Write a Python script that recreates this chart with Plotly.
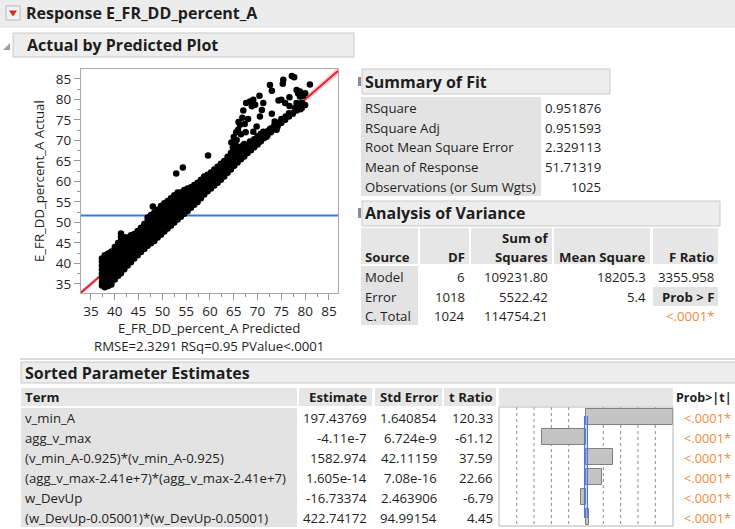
import plotly.graph_objects as go

W, H = 735, 529
FONT = "Open Sans, Segoe UI, sans-serif"
INK = "#1e1e1e"
ORANGE = "#ef8a3a"
BODY = 13.2
HEAD = 16

# ---------------- data ----------------
# Actual vs predicted: dense band along the diagonal, one list of actual values per predicted column
core_pred = [37.3, 37.9, 38.6, 39.3, 40.0, 40.7, 41.3, 42.0, 42.7, 43.4, 44.1, 44.8, 45.5, 46.2,
             46.9, 47.6, 48.3, 49.0, 49.7, 50.4, 51.1, 51.8, 52.5, 53.2, 53.9, 54.6, 55.3, 56.0,
             56.7, 57.4, 58.1, 58.8, 59.5, 60.2, 60.9, 61.6, 62.3, 63.0, 63.7, 64.4, 65.1, 65.8,
             66.5, 67.2, 67.9, 68.6, 69.3, 70.0, 70.7, 71.4, 72.1, 72.8, 73.5, 74.2, 75.0, 75.8,
             76.6, 77.4, 78.2, 79.0, 80.0]
core_actual = [
    [34.6, 35.5, 36.5, 37.5, 38.5, 39.5, 40.5, 41.2],
    [34.2, 35.2, 36.2, 37.2, 38.2, 39.2, 40.2, 41.2, 42.0],
    [34.5, 35.5, 36.4, 37.4, 38.4, 39.4, 40.4, 41.4, 42.4],
    [34.9, 35.9, 36.9, 37.9, 38.9, 39.9, 40.9, 41.9, 42.9],
    [36.1, 37.1, 38.1, 39.1, 40.1, 41.1, 42.1, 43.1, 44.0],
    [37.0, 38.0, 39.0, 40.0, 41.0, 42.0, 43.0, 44.0, 45.0],
    [37.6, 38.6, 39.6, 40.6, 41.6, 42.6, 43.6, 44.6, 45.6, 46.5, 47.3],
    [38.6, 39.6, 40.6, 41.6, 42.6, 43.6, 44.6, 45.6, 46.4],
    [39.5, 40.5, 41.5, 42.5, 43.5, 44.5, 45.5, 46.3],
    [40.3, 41.3, 42.3, 43.3, 44.3, 45.3, 46.3, 46.9],
    [41.2, 42.2, 43.2, 44.2, 45.2, 46.2, 47.2],
    [42.0, 43.0, 44.0, 45.0, 46.0, 47.0, 47.9],
    [42.8, 43.8, 44.8, 45.8, 46.8, 47.8, 48.7],
    [43.5, 44.5, 45.5, 46.5, 47.5, 48.5, 49.6],
    [44.3, 45.3, 46.3, 47.3, 48.3, 49.3, 50.4, 51.2],
    [44.9, 45.9, 46.9, 47.9, 48.9, 49.9, 50.9, 51.8],
    [45.5, 46.5, 47.5, 48.5, 49.5, 50.5, 51.5, 52.4],
    [46.3, 47.3, 48.3, 49.3, 50.3, 51.3, 52.3, 53.1],
    [47.0, 48.0, 49.0, 50.0, 51.0, 52.0, 53.0, 54.0],
    [47.8, 48.8, 49.8, 50.8, 51.8, 52.8, 53.8, 54.7],
    [48.5, 49.5, 50.5, 51.5, 52.5, 53.5, 54.5, 55.2],
    [49.2, 50.2, 51.2, 52.2, 53.2, 54.2, 55.2, 55.9],
    [50.0, 51.0, 52.0, 53.0, 54.0, 55.0, 56.0, 56.6],
    [50.7, 51.7, 52.7, 53.7, 54.7, 55.7, 56.8, 57.3],
    [51.4, 52.4, 53.4, 54.4, 55.4, 56.4, 57.3],
    [52.1, 53.1, 54.1, 55.1, 56.1, 57.1, 57.9],
    [52.8, 53.8, 54.8, 55.8, 56.8, 57.8, 58.3],
    [53.6, 54.6, 55.6, 56.6, 57.6, 58.6],
    [54.3, 55.3, 56.3, 57.3, 58.3, 59.1],
    [55.0, 56.0, 57.0, 58.0, 59.0, 59.7],
    [55.9, 56.9, 57.9, 58.9, 59.9, 60.4],
    [56.8, 57.8, 58.8, 59.8, 60.8, 61.2],
    [57.6, 58.6, 59.6, 60.6, 61.6],
    [58.3, 59.3, 60.3, 61.3, 62.2],
    [59.0, 60.0, 61.0, 62.0, 62.9],
    [59.7, 60.7, 61.7, 62.7, 63.6],
    [60.4, 61.4, 62.4, 63.4, 64.3],
    [61.2, 62.2, 63.2, 64.2, 65.0],
    [62.1, 63.1, 64.1, 65.1, 66.0],
    [62.9, 63.9, 64.9, 65.9, 66.9],
    [63.8, 64.8, 65.8, 66.8, 67.8],
    [64.6, 65.6, 66.6, 67.6, 68.5],
    [65.4, 66.4, 67.4, 68.4],
    [66.1, 67.1, 68.1, 69.1],
    [66.9, 67.9, 68.9],
    [67.6, 68.6, 69.6],
    [68.3, 69.3, 70.3],
    [69.0, 70.0, 71.0],
    [69.8, 70.8, 71.6],
    [70.6, 71.5],
    [71.3, 72.2],
    [72.0, 72.9],
    [72.7, 73.6],
    [73.4, 74.3],
    [74.3, 75.2],
    [75.0],
    [75.8, 76.6],
    [76.5],
    [77.3, 78.0],
    [77.6],
    [78.6],
]
# Scattered observations away from the main band
outlier_pred = [48.0, 52.9, 54.3, 59.6,
                64.5, 65.0, 65.5, 66.0, 66.8, 67.3, 66.5, 67.5, 65.3, 64.8,
                77.2, 77.7, 75.4, 75.3, 72.6, 73.0, 81.0, 78.2, 78.5, 78.9, 76.7, 74.4, 75.0,
                70.4, 71.2, 70.9, 68.4, 69.1, 67.6, 67.0, 69.5, 68.8, 76.7, 77.9, 75.8, 78.2,
                79.3, 73.0, 70.5, 68.0, 75.4, 74.7, 75.9, 73.6, 69.8, 66.3, 65.9, 69.1, 71.2,
                72.6, 74.0, 71.9, 65.6, 67.0, 68.4, 70.5, 79.6, 79.3, 78.6, 80.0, 78.9]
outlier_actual = [53.9, 61.9, 63.4, 66.3,
                  69.5, 70.8, 72.0, 74.5, 75.5, 74.0, 71.5, 72.0, 68.8, 68.2,
                  85.7, 85.4, 84.8, 83.8, 83.5, 82.1, 83.6, 82.3, 81.5, 80.7, 80.5, 79.7, 79.9,
                  80.9, 79.1, 77.4, 79.5, 79.9, 79.1, 77.3, 78.7, 78.3, 78.4, 77.9, 79.1, 79.1,
                  77.9, 76.5, 75.8, 75.2, 75.2, 74.2, 75.8, 74.6, 73.4, 73.8, 72.6, 72.1, 72.1,
                  72.8, 72.6, 70.9, 70.1, 68.9, 69.7, 69.7, 80.9, 79.2, 78.3, 81.5, 81.9]

# Confidence band half-widths around the fit line
band_x = [32.9, 40, 46, 51.7, 58, 64, 70, 76, 82, 86.9]
band_half = [0.55, 0.4, 0.2, 0.1, 0.18, 0.3, 0.45, 0.6, 0.75, 0.9]

# Summary of Fit
fit_labels = ["RSquare", "RSquare Adj", "Root Mean Square Error", "Mean of Response",
              "Observations (or Sum Wgts)"]
fit_values = ["0.951876", "0.951593", "2.329113", "51.71319", "1025"]
mean_response = 51.71319

# Analysis of Variance
anova_source = ["Model", "Error", "C. Total"]
anova_df = ["6", "1018", "1024"]
anova_ss = ["109231.80", "5522.42", "114754.21"]
anova_ms = ["18205.3", "5.4", ""]
f_ratio = "3355.958"
prob_f = "<.0001*"

# Sorted Parameter Estimates
terms = ["v_min_A", "agg_v_max", "(v_min_A-0.925)*(v_min_A-0.925)",
         "(agg_v_max-2.41e+7)*(agg_v_max-2.41e+7)", "w_DevUp",
         "(w_DevUp-0.05001)*(w_DevUp-0.05001)"]
estimates = ["197.43769", "-4.11e-7", "1582.974", "1.605e-14", "-16.73374", "422.74172"]
std_errors = ["1.640854", "6.724e-9", "42.11159", "7.08e-16", "2.463906", "94.99154"]
t_ratios = [120.33, -61.12, 37.59, 22.66, -6.79, 4.45]
p_values = ["<.0001*"] * 6

x_ticks = [35, 40, 45, 50, 55, 60, 65, 70, 75, 80, 85]
y_ticks = [35, 40, 45, 50, 55, 60, 65, 70, 75, 80, 85]
X_RANGE = [32.9, 86.9]
Y_RANGE = [32.8, 87.4]


# ---------------- helpers (pixel -> paper) ----------------
def px(x):
    return x / W


def py(y):
    return 1 - y / H


shapes = []
annotations = []


def rect(x0, y0, x1, y1, fill, line=None, lw=1):
    shapes.append(dict(type="rect", xref="paper", yref="paper",
                       x0=px(x0), x1=px(x1), y0=py(y1), y1=py(y0),
                       fillcolor=fill, line=dict(color=line or fill, width=lw if line else 0),
                       layer="below"))


def text(x, y, s, anchor="left", size=BODY, bold=False, color=INK, angle=0):
    annotations.append(dict(x=px(x), y=py(y), xref="paper", yref="paper", text=s,
                            showarrow=False, xanchor=anchor, yanchor="middle",
                            textangle=angle, borderpad=0,
                            font=dict(family=FONT, size=size, color=color,
                                      weight="bold" if bold else "normal")))


fig = go.Figure()

# ---------------- actual by predicted plot ----------------
bx = band_x + band_x[::-1]
by = [v + h for v, h in zip(band_x, band_half)] + \
     [v - h for v, h in zip(band_x[::-1], band_half[::-1])]
fig.add_trace(go.Scatter(x=bx, y=by, fill="toself", fillcolor="rgba(240,130,140,0.45)",
                         line=dict(width=0), hoverinfo="skip", mode="lines"))
fig.add_trace(go.Scatter(x=X_RANGE, y=X_RANGE, mode="lines",
                         line=dict(color="#e4212c", width=2), hoverinfo="skip"))
fig.add_trace(go.Scatter(x=X_RANGE, y=[mean_response, mean_response], mode="lines",
                         line=dict(color="#3f74e6", width=2), hoverinfo="skip"))

pts_x, pts_y = [], []
for xv, col in zip(core_pred, core_actual):
    for yv in col:
        pts_x.append(xv)
        pts_y.append(yv)
pts_x += outlier_pred
pts_y += outlier_actual
fig.add_trace(go.Scatter(x=pts_x, y=pts_y, mode="markers",
                         marker=dict(color="black", size=6.5, line=dict(width=0))))

axis_common = dict(showgrid=False, zeroline=False, showline=True, mirror=True,
                   linecolor="#a9a9a9", linewidth=1, ticks="outside", ticklen=6,
                   tickcolor="#9a9a9a", tickfont=dict(family=FONT, size=13.5, color=INK),
                   minor=dict(ticks="outside", ticklen=3, dtick=2.5, tickcolor="#9a9a9a"))
fig.update_layout(
    xaxis=dict(domain=[px(81), px(338)], range=X_RANGE, tickvals=x_ticks,
               anchor="y", **axis_common),
    yaxis=dict(domain=[py(293), py(69)], range=Y_RANGE, tickvals=y_ticks,
               anchor="x", **axis_common),
)

# ---------------- t ratio bars ----------------
tmax = max(abs(t) for t in t_ratios)
rows = list(range(len(t_ratios)))
fig.add_trace(go.Bar(x=t_ratios, y=rows, orientation="h", width=0.8,
                     marker=dict(color="#c4c4c4", line=dict(color="#808080", width=1)),
                     xaxis="x3", yaxis="y3"))
fig.update_layout(
    xaxis3=dict(domain=[px(499), px(673)], range=[-tmax * 1.005, tmax * 1.005],
                showticklabels=False, showgrid=False, zeroline=False, anchor="y3",
                showline=False, ticks=""),
    yaxis3=dict(domain=[py(526), py(407)], range=[5.45, -0.5], showticklabels=False,
                showgrid=False, zeroline=False, anchor="x3", showline=False, ticks=""),
)
for k in [-4, -3, -2, -1, 1, 2, 3, 4]:
    shapes.append(dict(type="line", xref="x3", yref="y3", x0=k * 0.2 * tmax,
                       x1=k * 0.2 * tmax, y0=-0.5, y1=5.45,
                       line=dict(color="#8a8a8a", width=1, dash="dot"), layer="below"))
for v in (-1.96, 1.96):
    shapes.append(dict(type="line", xref="x3", yref="y3", x0=v, x1=v, y0=-0.05, y1=5.05,
                       line=dict(color="#4a78e0", width=1.3), layer="above"))
shapes.append(dict(type="rect", xref="paper", yref="paper", x0=px(499), x1=px(673),
                   y0=py(526), y1=py(407), line=dict(color="#b5b5b5", width=1),
                   fillcolor="rgba(0,0,0,0)", layer="above"))

# ---------------- report chrome ----------------
rect(0, 0, W, 27, "#ececec")
shapes.append(dict(type="line", xref="paper", yref="paper", x0=0, x1=1, y0=py(27), y1=py(27),
                   line=dict(color="#dcdcdc", width=1)))
# red triangle menu icon
rect(6, 6, 20, 20, "#f3f3f3", "#b9b9b9")
shapes.append(dict(type="path", xref="paper", yref="paper",
                   path=f"M {px(9)},{py(10.5)} L {px(17)},{py(10.5)} L {px(13)},{py(16.5)} Z",
                   fillcolor="#d42a2a", line=dict(width=0)))
text(25, 13, "Response E_FR_DD_percent_A", size=HEAD, bold=True)

# outline: Actual by Predicted Plot
shapes.append(dict(type="path", xref="paper", yref="paper",
                   path=f"M {px(3)},{py(50)} L {px(10)},{py(50)} L {px(10)},{py(43)} Z",
                   fillcolor="#a0a0a0", line=dict(width=0)))
rect(13, 33, 354, 57, "#ededed", "#c8c8c8")
text(26, 45, "Actual by Predicted Plot", size=HEAD, bold=True)

# scatter plot titles
text(39, 181, "E_FR_DD_percent_A Actual", size=BODY, angle=-90, anchor="center")
text(209, 328, "E_FR_DD_percent_A Predicted", size=BODY, anchor="center")
text(209, 346, "RMSE=2.3291 RSq=0.95 PValue<.0001", size=BODY, anchor="center")

# Summary of Fit
rect(358, 77, 361, 86, "#8c8c8c")
rect(362, 69, 610, 94, "#ededed", "#c8c8c8")
text(364, 82, "Summary of Fit", size=HEAD, bold=True)
rect(361, 97, 541, 196, "#e3e3e3")
for i, (lab, val) in enumerate(zip(fit_labels, fit_values)):
    yc = 108 + 19.7 * i
    text(364, yc, lab)
    text(602, yc, val, anchor="right")

# Analysis of Variance
rect(358, 208, 361, 218, "#8c8c8c")
rect(362, 201, 720, 226, "#ededed", "#c8c8c8")
text(364, 213, "Analysis of Variance", size=HEAD, bold=True)
anova_cols = [(361, 418), (420, 469), (471, 552), (554, 650), (653, 718)]
for x0, x1 in anova_cols:
    rect(x0, 228, x1, 264, "#e6e6e6")
text(364, 257, "Source", bold=True)
text(466, 257, "DF", anchor="right", bold=True)
text(549, 238, "Sum of", anchor="right", bold=True)
text(549, 257, "Squares", anchor="right", bold=True)
text(647, 257, "Mean Square", anchor="right", bold=True)
text(715, 257, "F Ratio", anchor="right", bold=True)
rect(361, 266, 418, 325, "#e3e3e3")
for i in range(len(anova_source)):
    yc = 277 + 19.7 * i
    text(364, yc, anova_source[i])
    text(466, yc, anova_df[i], anchor="right")
    text(549, yc, anova_ss[i], anchor="right")
    if anova_ms[i]:
        text(647, yc, anova_ms[i], anchor="right")
text(715, 277, f_ratio, anchor="right")
rect(653, 287, 718, 306, "#e3e3e3")
text(715, 297, "Prob > F", anchor="right", bold=True)
text(715, 316, prob_f, anchor="right", color=ORANGE)

shapes.append(dict(type="line", xref="paper", yref="paper", x0=px(20), x1=1, y0=py(359),
                   y1=py(359), line=dict(color="#dadada", width=2)))

# Sorted Parameter Estimates
rect(21, 362, 740, 383, "#ededed", "#c8c8c8")
text(24, 373, "Sorted Parameter Estimates", size=HEAD, bold=True)
for x0, x1 in [(21, 297), (299, 372), (375, 442), (444, 496), (499, 673)]:
    rect(x0, 388, x1, 406, "#e6e6e6")
text(24, 397, "Term", bold=True)
text(368, 397, "Estimate", anchor="right", bold=True)
text(439, 397, "Std Error", anchor="right", bold=True)
text(494, 397, "t Ratio", anchor="right", bold=True)
text(733, 397, "Prob>|t|", anchor="right", bold=True, size=12.5)
rect(21, 408, 297, 527, "#e3e3e3")
for i in rows:
    yc = 418 + 20 * i
    text(24, yc, terms[i])
    text(368, yc, estimates[i], anchor="right")
    text(438, yc, std_errors[i], anchor="right")
    text(494, yc, f"{t_ratios[i]:.2f}", anchor="right")
    text(732, yc, p_values[i], anchor="right", color=ORANGE, size=12.8)

fig.update_layout(
    width=W, height=H, autosize=False, showlegend=False,
    margin=dict(l=0, r=0, t=0, b=0, pad=0),
    paper_bgcolor="white", plot_bgcolor="white",
    shapes=shapes, annotations=annotations,
    bargap=0,
)

fig.write_html("out.html")
